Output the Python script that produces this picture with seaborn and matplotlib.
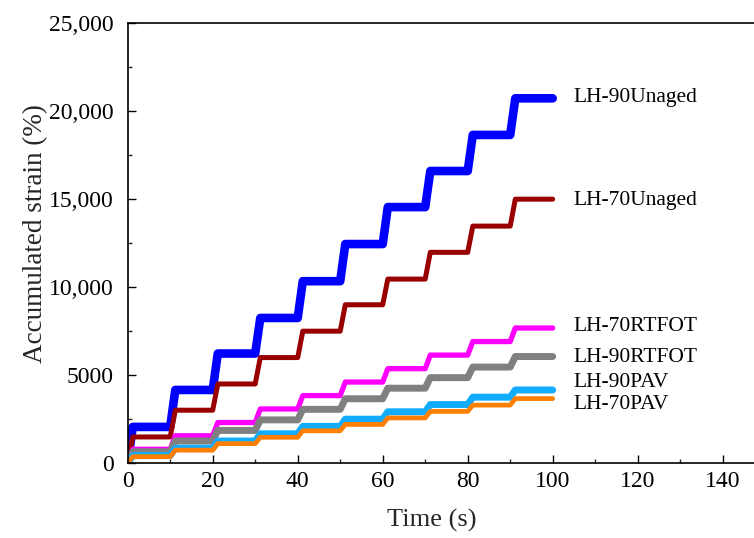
import matplotlib
matplotlib.use("Agg")
import matplotlib.pyplot as plt
from matplotlib.ticker import MultipleLocator, FuncFormatter
import numpy as np
import pandas as pd
import seaborn as sns

sns.set_theme(style="ticks")
plt.rcParams["font.family"] = ["Liberation Serif", "DejaVu Serif"]
plt.rcParams["xtick.direction"] = "in"
plt.rcParams["ytick.direction"] = "in"

# accumulated strain (%) at the end of each 10 s creep-recovery cycle
series = ["LH-90Unaged", "LH-70Unaged", "LH-70RTFOT", "LH-90RTFOT", "LH-90PAV", "LH-70PAV"]
lh90_unaged = [2050, 4150, 6220, 8240, 10330, 12440, 14540, 16590, 18640, 20720]
lh70_unaged = [1480, 3000, 4490, 5990, 7490, 8990, 10450, 11970, 13460, 14990]
lh70_rtfot = [780, 1550, 2300, 3070, 3830, 4600, 5360, 6130, 6900, 7670]
lh90_rtfot = [640, 1250, 1850, 2450, 3050, 3650, 4250, 4850, 5450, 6050]
lh90_pav = [420, 840, 1250, 1660, 2080, 2490, 2910, 3320, 3740, 4150]
lh70_pav = [360, 730, 1100, 1460, 1830, 2190, 2560, 2930, 3290, 3660]
values = [lh90_unaged, lh70_unaged, lh70_rtfot, lh90_rtfot, lh90_pav, lh70_pav]

colors = ["#0000FF", "#990000", "#FF00FF", "#808080", "#12ACFF", "#FF8000"]
widths = [6.2, 3.6, 3.8, 5.0, 5.0, 3.4]
label_y = [20740, 14940, 7730, 5970, 4550, 3300]

# creep 1 s, recovery 9 s per cycle
rows = []
for name, vals in zip(series, values):
    prev = 0
    for i, v in enumerate(vals):
        t0 = 10 * i
        rows.append((name, t0, prev))
        rows.append((name, t0 + 1.2, v))
        rows.append((name, t0 + 10, v))
        prev = v
df = pd.DataFrame(rows, columns=["series", "time", "strain"])

fig = plt.figure(figsize=(7.54, 5.38), dpi=100)
ax = fig.add_axes([127.7 / 754, 75 / 538, 637.5 / 754, 440 / 538])

for name, c, lw in zip(series, colors, widths):
    sns.lineplot(data=df[df.series == name], x="time", y="strain", color=c,
                 linewidth=lw, sort=False, ax=ax, solid_capstyle="round",
                 solid_joinstyle="round", estimator=None)

for name, y in zip(series, label_y):
    ax.text(104.8, y, name, fontsize=15.5, va="center", ha="left", color="black")

ax.set_xlim(0, 150)
ax.set_ylim(0, 25000)
ax.xaxis.set_major_locator(MultipleLocator(20))
ax.xaxis.set_minor_locator(MultipleLocator(10))
ax.yaxis.set_major_locator(MultipleLocator(5000))
ax.yaxis.set_minor_locator(MultipleLocator(2500))
ax.yaxis.set_major_formatter(FuncFormatter(lambda v, p: "%d" % v if v < 10000 else "{:,.0f}".format(v)))
ax.tick_params(which="major", length=6, width=1, labelsize=17, colors="black")
ax.tick_params(axis="y", which="major", pad=10)
ax.tick_params(axis="x", which="major", pad=6)
ax.tick_params(which="minor", length=3, width=1)
ax.set_xlabel("Time (s)", fontsize=19)
ax.set_ylabel("Accumulated strain (%)", fontsize=19.5)
ax.xaxis.set_label_coords(0.4765, -0.13)
ax.yaxis.set_label_coords(-0.145, 0.522)
ax.xaxis.label.set_va("center")
ax.yaxis.label.set_va("center")
for s in ax.spines.values():
    s.set_linewidth(1.2)
    s.set_color("black")

fig.savefig("out.png", dpi=100)
